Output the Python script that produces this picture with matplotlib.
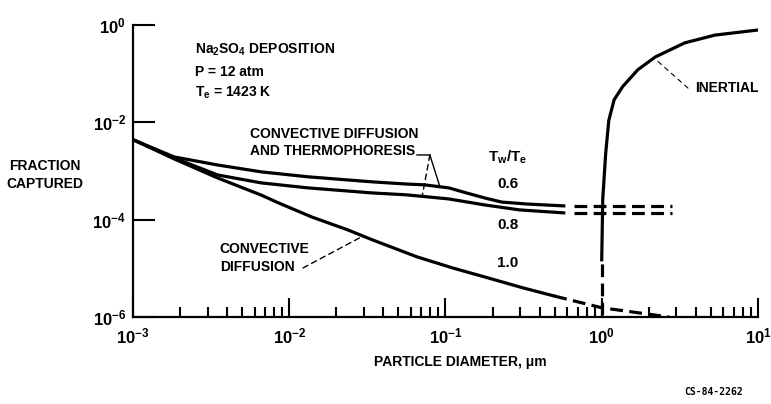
import numpy as np
import matplotlib
matplotlib.use("Agg")
import matplotlib.pyplot as plt
from matplotlib import ticker

plt.rcParams["font.family"] = ["Liberation Sans", "DejaVu Sans"]
plt.rcParams["font.weight"] = "bold"
plt.rcParams["mathtext.default"] = "regular"

# particle diameter (um) / fraction captured
d_06 = [0.001, 0.00183, 0.00348, 0.00662, 0.0132, 0.0337, 0.0562, 0.0733, 0.105, 0.136, 0.178, 0.229, 0.331, 0.571]
f_06 = [4.4e-3, 1.95e-3, 1.33e-3, 9.6e-4, 7.6e-4, 6.0e-4, 5.4e-4, 5.2e-4, 4.5e-4, 3.55e-4, 2.8e-4, 2.3e-4, 2.1e-4, 1.92e-4]
d_08 = [0.001, 0.00183, 0.00348, 0.00662, 0.0132, 0.0337, 0.0562, 0.105, 0.178, 0.297, 0.571]
f_08 = [4.4e-3, 1.86e-3, 8.3e-4, 5.7e-4, 4.5e-4, 3.55e-4, 3.24e-4, 2.67e-4, 2.01e-4, 1.59e-4, 1.38e-4]
d_10 = [0.001, 0.00183, 0.00348, 0.00662, 0.00857, 0.0139, 0.0236, 0.0337, 0.0658, 0.111, 0.186, 0.311, 0.497]
f_10 = [4.4e-3, 1.78e-3, 7.2e-4, 3.2e-4, 2.2e-4, 1.14e-4, 6.2e-5, 3.9e-5, 1.72e-5, 1.02e-5, 6.4e-6, 4.0e-6, 2.7e-6]

# dashed (extrapolated) parts
d_ext = [0.667, 2.8]
d_10_ext = [0.497, 1.0, 2.7]
f_10_ext = [2.7e-6, 1.55e-6, 1.0e-6]

d_inertial = [1.0, 1.015, 1.06, 1.11, 1.2, 1.36, 1.7, 2.2, 3.4, 5.3, 10.0]
f_inertial = [1.5e-5, 2.6e-4, 2.3e-3, 1.1e-2, 2.9e-2, 5.4e-2, 0.12, 0.22, 0.43, 0.62, 0.79]
f_inertial_ext = [1.1e-6, 1.5e-5]

ratios = ["0.6", "0.8", "1.0"]

fig = plt.figure(figsize=(7.71, 4.04), dpi=100)
ax = fig.add_axes([0.1725, 0.2153, 0.8106, 0.7228])

lw = 2.3
dash = (0, (4, 2))
ax.plot(d_06, f_06, color="black", lw=lw)
ax.plot(d_08, f_08, color="black", lw=lw)
ax.plot(d_10, f_10, color="black", lw=lw)
ax.plot(d_ext, [f_06[-1]] * 2, color="black", lw=lw, ls=dash)
ax.plot(d_ext, [f_08[-1]] * 2, color="black", lw=lw, ls=dash)
ax.plot(d_10_ext, f_10_ext, color="black", lw=lw, ls=dash)
ax.plot(d_inertial, f_inertial, color="black", lw=lw)
ax.plot([d_inertial[0]] * 2, f_inertial_ext, color="black", lw=lw, ls=dash)

ax.set_xscale("log")
ax.set_yscale("log")
ax.set_xlim(1e-3, 10)
ax.set_ylim(1e-6, 1)

fmt = ticker.FuncFormatter(lambda v, p: r"$\mathregular{10^{%d}}$" % round(np.log10(v)))
ax.xaxis.set_major_locator(ticker.LogLocator(base=10, numticks=10))
ax.xaxis.set_minor_locator(ticker.LogLocator(base=10, subs=np.arange(2, 10), numticks=10))
ax.xaxis.set_major_formatter(fmt)
ax.yaxis.set_major_locator(ticker.FixedLocator([1e-6, 1e-4, 1e-2, 1]))
ax.yaxis.set_minor_locator(ticker.NullLocator())
ax.yaxis.set_major_formatter(fmt)
ax.tick_params(axis="x", which="major", direction="in", length=14, width=1.5, pad=7, labelsize=12)
ax.tick_params(axis="x", which="minor", direction="in", length=7, width=1.5)
ax.tick_params(axis="y", which="major", direction="in", length=16, width=1.5, pad=5, labelsize=12)

for s in ["top", "right"]:
    ax.spines[s].set_visible(False)
for s in ["left", "bottom"]:
    ax.spines[s].set_linewidth(1.6)

fs = 10
tr = ax.transAxes
ax.text(0.099, 0.914, r"Na$_2$SO$_4$ DEPOSITION", transform=tr, fontsize=fs, va="center")
ax.text(0.099, 0.839, "P = 12 atm", transform=tr, fontsize=fs, va="center")
ax.text(0.099, 0.767, r"T$_e$ = 1423 K", transform=tr, fontsize=fs, va="center")

ax.text(0.187, 0.598, "CONVECTIVE DIFFUSION\nAND THERMOPHORESIS", transform=tr, fontsize=fs,
        va="center", ha="left", linespacing=1.3)
ax.annotate("", xy=(0.475, 0.555), xycoords=tr, xytext=(0.454, 0.555), textcoords=tr,
            arrowprops=dict(arrowstyle="-", lw=1, shrinkA=0, shrinkB=0))
ax.annotate("", xy=(0.092, 4.8e-4), xytext=(0.475, 0.555), textcoords=tr,
            arrowprops=dict(arrowstyle="-", lw=1, shrinkA=0, shrinkB=0))
ax.annotate("", xy=(0.071, 3.05e-4), xytext=(0.475, 0.555), textcoords=tr,
            arrowprops=dict(arrowstyle="-", lw=1, ls=(0, (4, 3)), shrinkA=0, shrinkB=0))

ax.text(0.6, 0.548, r"T$_w$/T$_e$", transform=tr, fontsize=fs + 1, ha="center", va="center")
for lab, yf in zip(ratios, [0.455, 0.315, 0.185]):
    ax.text(0.6, yf, lab, transform=tr, fontsize=fs + 1, ha="center", va="center")

ax.text(0.139, 0.202, "CONVECTIVE\nDIFFUSION", transform=tr, fontsize=fs, ha="left", va="center",
        linespacing=1.3)
ax.annotate("", xy=(0.03, 4.7e-5), xytext=(0.272, 0.168), textcoords=tr,
            arrowprops=dict(arrowstyle="-", lw=1, ls=(0, (4, 3)), shrinkA=0, shrinkB=0))

ax.text(0.899, 0.784, "INERTIAL", transform=tr, fontsize=fs, ha="left", va="center")
ax.annotate("", xy=(2.2, 0.2), xytext=(0.888, 0.784), textcoords=tr,
            arrowprops=dict(arrowstyle="-", lw=0.8, ls=(0, (4, 4)), shrinkA=0, shrinkB=0))

fig.text(0.058, 0.567, "FRACTION\nCAPTURED", fontsize=fs, ha="center", va="center", linespacing=1.4)
fig.text(0.597, 0.104, "PARTICLE DIAMETER, \u03bcm", fontsize=fs, ha="center", va="center")
fig.text(0.925, 0.03, "CS-84-2262", fontsize=7, ha="center", va="center", family="DejaVu Sans Mono")

fig.savefig("out.png", dpi=100)
